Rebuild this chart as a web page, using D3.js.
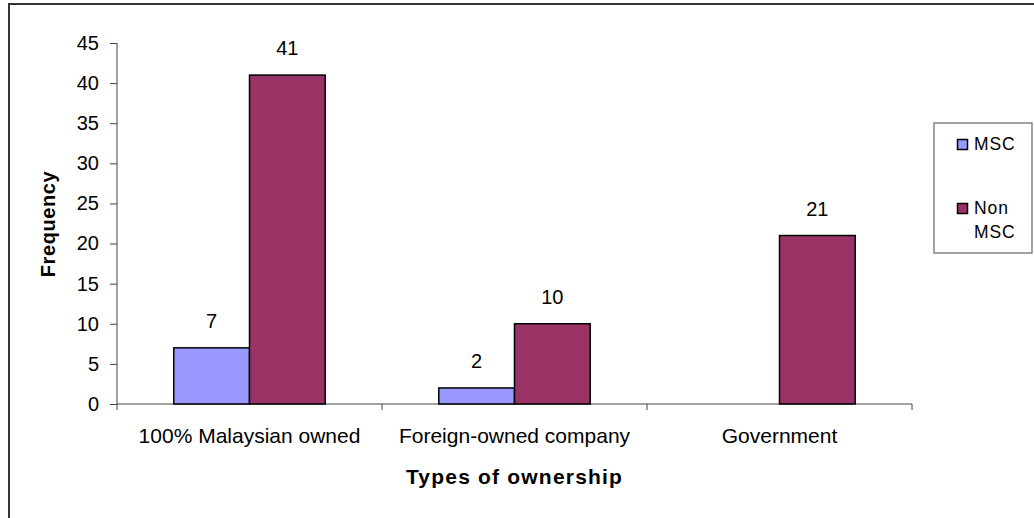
<!DOCTYPE html>
<html>
<head>
<meta charset="utf-8">
<script src="https://cdn.jsdelivr.net/npm/d3@7"></script>
<style>
  html, body { margin: 0; padding: 0; background: #fff; }
  svg { display: block; font-family: Arial, "Liberation Sans", sans-serif; }
</style>
</head>
<body>
<svg id="chart" width="1034" height="518"></svg>
<script>
// Ownership types and frequencies for MSC / non-MSC firms
const categories = ["100% Malaysian owned", "Foreign-owned company", "Government"];
const seriesNames = ["MSC", "Non MSC"];
const mscValues = [7, 2, null];
const nonMscValues = [41, 10, 21];
const yTicks = [0, 5, 10, 15, 20, 25, 30, 35, 40, 45];
const colors = { "MSC": "#9999FF", "Non MSC": "#993366" };

const svg = d3.select("#chart");

// Outer chart frame (runs past the right and bottom edges)
svg.append("rect")
  .attr("x", 9).attr("y", 4)
  .attr("width", 1100).attr("height", 600)
  .attr("fill", "none")
  .attr("stroke", "#333")
  .attr("stroke-width", 2);

const plot = { left: 117, right: 912, top: 43, bottom: 404 };

const x0 = d3.scaleBand()
  .domain(categories)
  .range([plot.left, plot.right])
  .padding(0);

// Two bars per group with a 150% gap width
const groupW = x0.bandwidth() * 2 / 3.5;
const x1 = d3.scaleBand()
  .domain(seriesNames)
  .range([(x0.bandwidth() - groupW) / 2, (x0.bandwidth() + groupW) / 2])
  .padding(0);

const y = d3.scaleLinear().domain([0, 45]).range([plot.bottom, plot.top]);

const rows = categories.map((c, i) => ({
  category: c,
  values: [
    { series: "MSC", value: mscValues[i] },
    { series: "Non MSC", value: nonMscValues[i] }
  ]
}));

// Y axis
const yAxis = svg.append("g")
  .attr("transform", `translate(${plot.left},0)`)
  .call(d3.axisLeft(y).tickValues(yTicks).tickSize(7).tickPadding(11).tickFormat(d3.format("d")));
yAxis.select(".domain").attr("stroke", "#444").attr("d", `M0,${plot.top}V${plot.bottom}`);
yAxis.selectAll(".tick line").attr("stroke", "#444");
yAxis.selectAll(".tick text")
  .attr("font-size", 20)
  .attr("fill", "#000")
  .attr("font-family", "Arial, 'Liberation Sans', sans-serif");

// X axis with ticks on the category boundaries
const xAxisG = svg.append("g");
xAxisG.append("line")
  .attr("x1", plot.left).attr("x2", plot.right)
  .attr("y1", plot.bottom).attr("y2", plot.bottom)
  .attr("stroke", "#444");
const boundaries = categories.map(c => x0(c)).concat([x0(categories[categories.length - 1]) + x0.bandwidth()]);
xAxisG.selectAll("line.bt")
  .data(boundaries)
  .join("line")
  .attr("class", "bt")
  .attr("x1", d => d).attr("x2", d => d)
  .attr("y1", plot.bottom).attr("y2", plot.bottom + 6)
  .attr("stroke", "#444");
xAxisG.selectAll("text.cat")
  .data(categories)
  .join("text")
  .attr("class", "cat")
  .attr("x", d => x0(d) + x0.bandwidth() / 2)
  .attr("y", 443)
  .attr("text-anchor", "middle")
  .attr("font-size", 21)
  .text(d => d);

// Bars
const groups = svg.append("g").selectAll("g")
  .data(rows)
  .join("g")
  .attr("transform", d => `translate(${x0(d.category)},0)`);

groups.selectAll("rect")
  .data(d => d.values.filter(v => v.value != null && v.value > 0))
  .join("rect")
  .attr("x", d => x1(d.series))
  .attr("y", d => y(d.value))
  .attr("width", x1.bandwidth())
  .attr("height", d => y(0) - y(d.value))
  .attr("fill", d => colors[d.series])
  .attr("stroke", "#000")
  .attr("stroke-width", 1.5);

// Value labels
groups.selectAll("text")
  .data(d => d.values.filter(v => v.value != null && v.value > 0))
  .join("text")
  .attr("x", d => x1(d.series) + x1.bandwidth() / 2)
  .attr("y", d => y(d.value) - 20)
  .attr("text-anchor", "middle")
  .attr("font-size", 20)
  .text(d => d.value);

// Axis titles
svg.append("text")
  .attr("x", (plot.left + plot.right) / 2)
  .attr("y", 484)
  .attr("text-anchor", "middle")
  .attr("font-size", 21)
  .attr("font-weight", "bold")
  .attr("letter-spacing", 1.2)
  .text("Types of ownership");

svg.append("text")
  .attr("transform", `translate(55,224) rotate(-90)`)
  .attr("text-anchor", "middle")
  .attr("font-size", 20)
  .attr("font-weight", "bold")
  .attr("letter-spacing", 0.6)
  .text("Frequency");

// Legend
const legend = svg.append("g");
legend.append("rect")
  .attr("x", 934).attr("y", 123)
  .attr("width", 98).attr("height", 130)
  .attr("fill", "#fff")
  .attr("stroke", "#666")
  .attr("stroke-width", 1.2);

const legendItems = [
  { series: seriesNames[0], lines: ["MSC"], y: 139 },
  { series: seriesNames[1], lines: ["Non", "MSC"], y: 203 }
];
const li = legend.selectAll("g.item")
  .data(legendItems)
  .join("g")
  .attr("class", "item");
li.append("rect")
  .attr("x", 957.5).attr("y", d => d.y + 0.5)
  .attr("width", 10).attr("height", 10)
  .attr("fill", d => colors[d.series])
  .attr("stroke", "#000")
  .attr("stroke-width", 1.5);
li.each(function(d) {
  const t = d3.select(this).append("text")
    .attr("font-size", 17.5)
    .attr("letter-spacing", 0.9);
  d.lines.forEach((line, k) => {
    t.append("tspan")
      .attr("x", 974)
      .attr("y", d.y + 11 + k * 24)
      .text(line);
  });
});
</script>
</body>
</html>
